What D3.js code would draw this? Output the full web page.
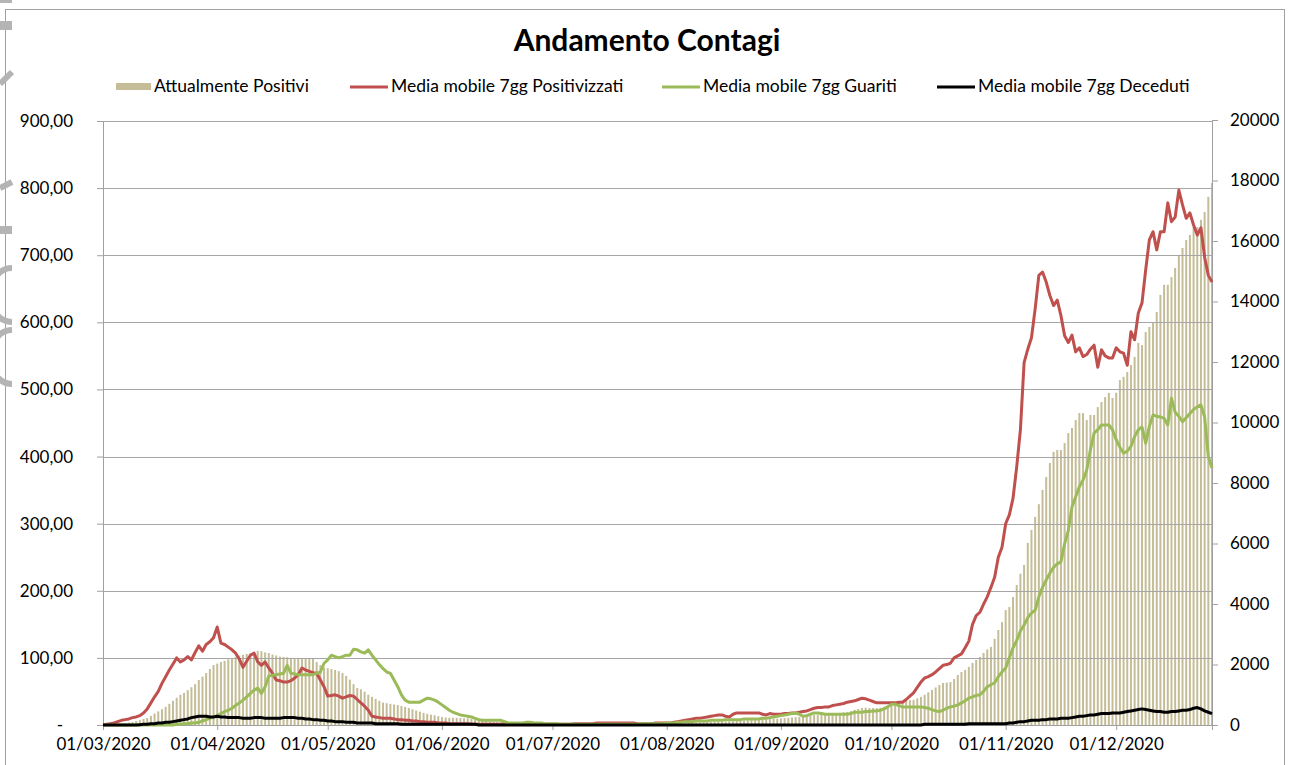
<!DOCTYPE html>
<html><head><meta charset="utf-8">
<script src="https://cdn.jsdelivr.net/npm/d3@7"></script>
<style>
body{margin:0;background:#fff;}
svg{display:block;}
text{font-family:Lato,'Open Sans',sans-serif;fill:#000;}
</style>
</head><body>
<svg id="chart" width="1289" height="765"></svg>
<script>
// ---------------- DATA ----------------
const startDate = "2020-03-01"; // first day, one value per day
const title = "Andamento Contagi";
const seriesNames = ["Attualmente Positivi","Media mobile 7gg Positivizzati","Media mobile 7gg Guariti","Media mobile 7gg Deceduti"];

// bars, right axis
const attualmentePositivi = [
 0,5,10,20,30,40,60,80,100,130,160,200,230,300,380,450,520,600,700,800,900,1000,1060,1150,1250,1350,1490,1600,1720,1850,1980,
 2030,2080,2120,2170,2210,2250,2290,2320,2350,2380,2410,2450,2440,2400,2380,2330,2300,2260,2250,2240,2220,2210,2220,2210,2210,2210,2200,2080,1980,1900,
 1880,1850,1820,1780,1720,1620,1500,1350,1220,1180,1100,1000,930,860,800,740,720,700,680,660,630,600,560,520,480,440,400,370,340,320,290,
 260,250,240,240,235,230,225,220,200,180,165,150,130,110,100,95,90,85,82,80,78,75,72,70,68,66,65,64,62,61,
 60,58,55,52,50,48,46,45,44,43,42,42,41,41,40,40,40,40,41,41,42,42,43,44,45,45,46,46,47,48,49,
 50,50,55,55,60,60,65,70,75,80,85,90,95,100,105,110,115,120,125,130,140,150,160,170,175,180,185,190,200,205,210,
 220,230,240,250,260,270,280,290,310,330,340,350,360,370,380,390,400,420,430,460,500,530,560,570,560,560,560,570,600,640,
 700,730,760,780,800,820,830,880,930,1000,1080,1160,1240,1320,1390,1400,1420,1520,1650,1750,1820,1920,2050,2150,2250,2380,2500,2580,2850,3140,3400,
 3800,3900,4230,4630,5000,5290,6020,6450,6880,7300,7770,8200,8660,9030,9090,9090,9320,9650,9820,10080,10310,10310,10080,10250,10250,10510,10680,10840,10980,10810,
 10980,11400,11510,11670,11900,12170,12630,12560,12990,13160,13320,13650,14220,14550,14550,14810,15110,15540,15770,16030,16200,16460,16460,16700,16960,17460,17920
];

// lines, left axis
const mmPositivizzati = [
 0,1,2,3,5,7,8,9,11,12,14,18,24,33,42,50,62,72,82,91,100,94,97,102,97,108,118,110,120,124,130,
 146,122,120,116,112,107,98,86,95,104,107,94,89,94,85,77,67,66,64,64,66,70,75,85,82,80,78,77,67,57,
 43,44,45,43,40,42,44,43,38,33,28,22,13,12,11,10,10,10,9,8,8,7,7,6,6,5,5,4,4,4,3,
 3,3,2,2,2,2,2,2,1,1,1,1,1,1,1,1,1,2,2,2,1,1,1,1,1,1,1,1,1,1,
 1,1,1,1,1,1,2,2,2,2,2,2,3,3,3,3,3,3,3,3,3,3,3,2,2,2,2,2,3,3,3,
 3,3,4,5,6,7,8,9,10,10,11,12,13,14,15,15,13,12,16,18,18,18,18,18,18,18,16,15,17,16,16,
 16,17,17,18,18,19,20,21,23,25,26,26,27,27,29,30,31,32,34,35,36,38,40,39,37,35,33,33,33,33,
 33,33,34,34,38,43,48,56,64,70,72,75,79,84,89,90,92,100,103,106,115,125,150,163,168,180,191,205,220,250,265,
 300,313,338,385,440,540,560,577,620,670,675,660,640,625,633,610,580,570,581,556,562,549,552,560,566,533,559,550,547,547,
 562,556,554,536,586,574,614,629,678,723,735,708,735,735,778,750,757,797,775,755,763,745,730,741,697,670,660
];

const mmGuariti = [
 0,0,0,0,0,0,0,0,0,0,0,0,0,0,0,0,0,0,0,0,1,1,2,2,3,3,4,6,8,10,12,
 14,17,20,22,25,29,33,37,42,47,52,55,47,57,73,74,75,76,77,89,77,76,75,75,75,75,75,77,79,92,
 97,104,102,100,102,104,104,113,112,109,107,112,104,97,90,84,79,77,67,57,45,37,34,34,34,34,37,40,39,37,34,
 30,26,22,19,17,15,14,13,12,10,8,7,7,7,7,7,7,5,3,3,3,3,3,4,4,3,3,3,2,2,
 2,2,1,1,1,1,1,1,1,1,1,1,1,1,1,1,1,1,1,1,1,1,1,1,2,2,2,2,2,2,2,
 3,3,3,4,4,5,5,5,6,6,6,6,7,7,7,7,8,8,8,8,8,9,9,9,9,9,10,10,11,12,13,
 14,15,16,17,18,16,13,14,16,18,18,17,16,16,16,16,16,16,16,17,19,19,19,20,20,21,21,22,24,27,
 31,31,29,27,27,27,27,27,27,26,25,23,21,20,22,25,27,28,30,33,36,40,42,44,45,50,57,60,63,72,79,
 85,100,115,126,140,149,160,167,171,191,205,216,226,235,240,243,270,290,325,340,355,365,380,410,435,440,447,447,447,440,
 425,414,405,408,415,430,440,444,420,445,462,460,459,457,447,487,466,460,452,458,464,470,474,477,459,400,383
];

const mmDeceduti = [
 0,0,0,0,0,0,0,0,0,0,0.5,1,1,2,2,3,3,4,4,5,6,7,8,9,11,12,13,13,13,12,12,
 13,12,12,11,11,11,11,10,10,10,11,11,11,10,10,10,10,10,11,11,11,11,10,10,9,9,8,8,7,7,
 6,6,5,5,5,4,4,4,3,3,3,3,3,2,2,2,2,2,2,2,1,1,1,1,1,1,1,1,1,1,1,
 1,1,1,1,1,1,1,1,1,1,0,0,0,0,0,0,0,0,0,0,0,0,0,0,0,0,0,0,0,0,
 0,0,0,0,0,0,0,0,0,0,0,0,0,0,0,0,0,0,0,0,0,0,0,0,0,0,0,0,0,0,0,
 0,0,0,0,0,0,0,0,0,0,0,0,0,0,0,0,0,0,0,0,0,0,0,0,0,0,0,0,0,0,0,
 0,0,0,0,0,0,0,0,0,0,0,0,0,0,0,0,0,0,0,0,0,0,0,0,0,0,0,0,0,0,
 0,0,0,0,0,0,0,0,0,1,1,1,1,1,1,1,1,1,1,1,1,2,2,2,2,2,2,2,2,2,2,
 2,3,3,4,5,5,6,7,7,7,8,8,9,9,9,10,10,10,11,12,13,13,14,15,15,16,17,17,17,18,
 18,18,19,20,21,22,23,24,23,22,21,20,20,19,19,20,20,21,22,22,23,25,26,24,21,19,17
];

const leftTicks = [0,100,200,300,400,500,600,700,800,900];
const rightTicks = [0,2000,4000,6000,8000,10000,12000,14000,16000,18000,20000];
const monthTicks = ["2020-03-01","2020-04-01","2020-05-01","2020-06-01","2020-07-01","2020-08-01","2020-09-01","2020-10-01","2020-11-01","2020-12-01"];

// ---------------- CHART ----------------
const svg = d3.select("#chart");
const parse = d3.utcParse("%Y-%m-%d");
const t0 = parse(startDate);
const dates = attualmentePositivi.map((_, i) => d3.utcDay.offset(t0, i));

const L = 103, R = 1212, B = 725, T = 121;
const x = d3.scaleUtc().domain([dates[0], dates[dates.length - 1]]).range([L, R]);
const yL = d3.scaleLinear().domain([0, 900]).range([B, T]);
const yR = d3.scaleLinear().domain([0, 20000]).range([B, 120]);

const GRID = "#a6a6a6", AXIS = "#a0a0a0", FONT = "Lato,'Open Sans',sans-serif";

// outer frame
svg.append("rect").attr("x", 5.5).attr("y", 9.5).attr("width", 1279).attr("height", 770)
  .attr("fill", "#fff").attr("stroke", "#a0a0a0").attr("stroke-width", 1);

// partial grey shapes cut by the left edge of the picture
const deco = svg.append("g").attr("fill", "none").attr("stroke", "#b4b4b4").attr("stroke-width", 6);
deco.append("rect").attr("x", 0).attr("y", 0).attr("width", 12).attr("height", 3).attr("fill", "#b4b4b4").attr("stroke", "none");
deco.append("rect").attr("x", 0).attr("y", 21).attr("width", 12).attr("height", 9).attr("fill", "#b4b4b4").attr("stroke", "none");
deco.append("path").attr("d", "M0,84 L12,72");
deco.append("path").attr("d", "M0,188 L12,182");
deco.append("rect").attr("x", 0).attr("y", 226).attr("width", 12).attr("height", 8).attr("fill", "#b4b4b4").attr("stroke", "none");
deco.append("path").attr("d", "M12,268 A22,26 0 0 0 -10,295 A22,26 0 0 0 12,322");
deco.append("path").attr("d", "M12,330 A22,27 0 0 0 -10,357 A22,27 0 0 0 12,384");

// title
svg.append("text").attr("x", 647).attr("y", 51).attr("text-anchor", "middle")
  .style("font-size", "30px").style("font-weight", "bold").text(title);

// bars
svg.append("g").selectAll("rect").data(attualmentePositivi).join("rect")
  .attr("x", (d, i) => x(dates[i]) - 1)
  .attr("width", 2)
  .attr("y", d => yR(d))
  .attr("height", d => B - yR(d))
  .attr("fill", "#c4bd97");

// gridlines
svg.append("g").selectAll("line").data(leftTicks.filter(v => v > 0)).join("line")
  .attr("x1", L).attr("x2", R)
  .attr("y1", d => Math.round(yL(d)) + 0.5).attr("y2", d => Math.round(yL(d)) + 0.5)
  .attr("stroke", GRID).attr("stroke-width", 1);

// axes
const fmtL = v => v === 0 ? "-" : d3.format(".2f")(v).replace(".", ",");
const gL = svg.append("g").attr("transform", `translate(${L},0)`)
  .call(d3.axisLeft(yL).tickValues(leftTicks).tickFormat(fmtL).tickSize(6).tickPadding(24));
gL.selectAll("text").filter(d => d === 0).attr("dx", "-10px");

const gR = svg.append("g").attr("transform", `translate(${R},0)`)
  .call(d3.axisRight(yR).tickValues(rightTicks).tickFormat(d3.format("d")).tickSize(6).tickPadding(12));

const gB = svg.append("g").attr("transform", `translate(0,${B})`)
  .call(d3.axisBottom(x).tickValues(monthTicks.map(parse)).tickFormat(d3.utcFormat("%d/%m/%Y")).tickSize(5).tickPadding(8));

[gL, gR, gB].forEach(g => {
  g.select(".domain").attr("stroke", AXIS);
  g.selectAll(".tick line").attr("stroke", AXIS);
  g.selectAll("text").style("font-size", "17px").style("font-family", FONT).attr("fill", "#000");
});

// lines
const lineGen = arr => d3.line().x((d, i) => x(dates[i])).y(d => yL(d))(arr);
const lines = [
  {data: mmPositivizzati, color: "#c0504d"},
  {data: mmGuariti, color: "#9bbb59"},
  {data: mmDeceduti, color: "#000000"}
];
lines.forEach(l => {
  svg.append("path").attr("d", lineGen(l.data)).attr("fill", "none")
    .attr("stroke", l.color).attr("stroke-width", 3).attr("stroke-linejoin", "round");
});

// legend
const legendX = [116, 350, 662, 937];
const legendColors = ["#c4bd97", "#c0504d", "#9bbb59", "#000000"];
const lg = svg.append("g");
seriesNames.forEach((name, i) => {
  if (i === 0) {
    lg.append("rect").attr("x", legendX[i]).attr("y", 83).attr("width", 35).attr("height", 7).attr("fill", legendColors[i]);
  } else {
    lg.append("line").attr("x1", legendX[i]).attr("x2", legendX[i] + 38).attr("y1", 87).attr("y2", 87)
      .attr("stroke", legendColors[i]).attr("stroke-width", 3);
  }
  lg.append("text").attr("x", legendX[i] + (i === 0 ? 38 : 41)).attr("y", 92)
    .style("font-size", "17.5px").text(name);
});
</script>
</body></html>
